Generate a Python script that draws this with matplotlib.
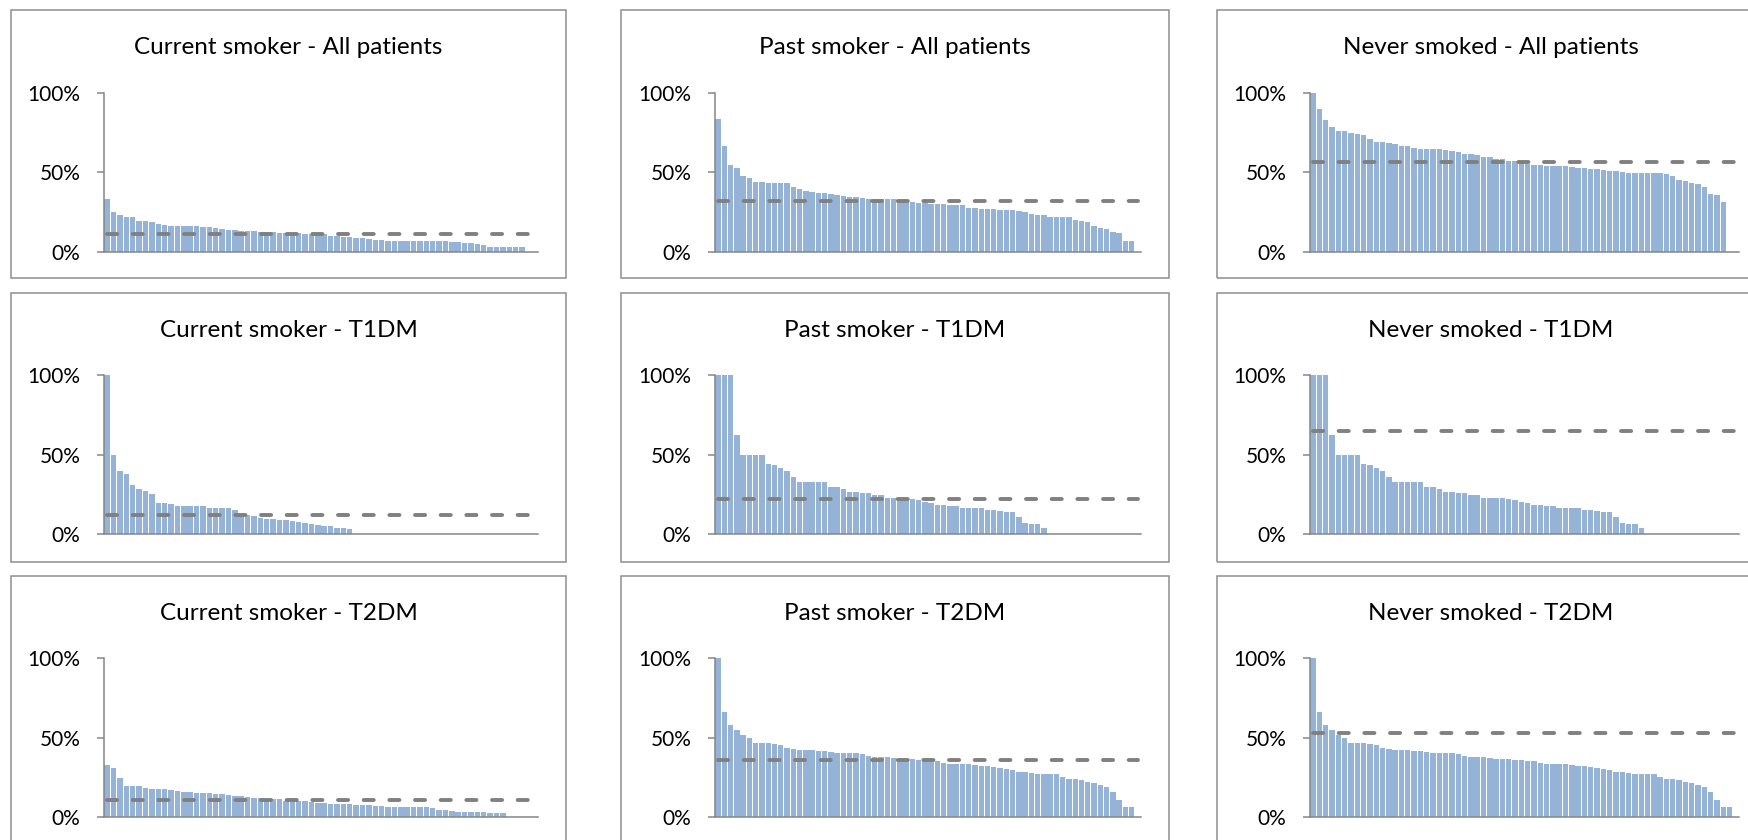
import numpy as np
import matplotlib
matplotlib.use('Agg')
import matplotlib.pyplot as plt
from matplotlib.patches import Rectangle
from matplotlib.ticker import PercentFormatter

plt.rcParams['font.family'] = ['Lato', 'DejaVu Sans']

# ---- data (% of patients per centre, sorted) ----
status = ['Current smoker', 'Past smoker', 'Never smoked']
groups = ['All patients', 'T1DM', 'T2DM']
n_cat = 68

curr_all = [32.9, 24.7, 23.3, 21.8, 21.8, 19.3, 19.1, 18.4, 17.6, 16.6,
            16.4, 16.4, 16.4, 16.4, 15.9, 15.5, 15.5, 14.7, 14.5, 13.8,
            13.4, 13.2, 13.0, 12.8, 12.4, 12.4, 12.2, 11.9, 11.7, 11.7,
            11.5, 11.3, 11.1, 10.9, 10.9, 9.6, 9.6, 9.2, 9.0, 8.6,
            8.4, 8.2, 7.5, 7.5, 7.0, 6.7, 6.7, 6.7, 6.7, 6.5,
            6.5, 6.5, 6.5, 6.5, 5.9, 5.9, 5.2, 5.2, 5.0, 4.0,
            2.9, 2.9, 2.7, 2.7, 2.7, 2.7]
past_all = [83.4, 66.7, 54.5, 52.8, 47.6, 46.5, 43.8, 43.6, 43.2, 43.2,
            43.2, 43.0, 40.9, 39.2, 38.4, 37.5, 37.1, 37.1, 36.3, 35.6,
            35.2, 34.6, 34.2, 33.8, 33.3, 33.1, 33.1, 33.1, 32.9, 32.5,
            32.1, 31.0, 30.8, 30.4, 30.0, 30.0, 30.0, 29.6, 29.4, 29.4,
            27.7, 27.5, 27.0, 27.0, 26.8, 26.4, 26.2, 26.2, 25.6, 24.9,
            23.9, 23.1, 22.9, 21.8, 21.8, 21.8, 21.8, 20.1, 19.3, 18.7,
            15.9, 14.9, 14.0, 12.4, 11.7, 6.7, 6.7]
never_all = [100, 90, 83, 78.2, 76.2, 75.7, 74.7, 74.1, 73.4, 71.1,
             69, 68.8, 68.2, 67.6, 66.3, 66.3, 65.5, 64.4, 64.4, 64.4,
             64.4, 63.8, 63.2, 62.6, 61.7, 61.5, 60.7, 59.8, 59.4, 58.2,
             58.2, 57.3, 56.9, 56.1, 55, 54.8, 54.4, 54, 53.8, 53.6,
             53.6, 53.1, 52.9, 52.5, 52.1, 51.9, 51.3, 50.8, 50.6, 50.4,
             49.6, 49.6, 49.6, 49.6, 49.6, 49.6, 49, 47.7, 45.2, 44.6,
             43.5, 42.7, 41, 36.2, 35.8, 31]
curr_t1 = [100, 49.8, 39.9, 38.2, 31.1, 28.4, 27.5, 25.6, 19.7, 19.7,
           18.9, 18.1, 18.1, 18.1, 18.1, 18.1, 16.4, 16.4, 16.4, 16.4,
           15.3, 12.6, 12.2, 11.6, 10.5, 9.7, 9.7, 9.2, 8.8, 8.4,
           8.0, 6.9, 6.3, 5.9, 5.5, 5.5, 4.2, 3.8, 3.6]
past_t1 = [100, 100, 100, 62.2, 49.8, 49.8, 49.8, 49.8, 44.1, 43.3,
           41.6, 39.7, 36.1, 33, 33, 33, 33, 33, 29.6, 29.6,
           28.2, 26.9, 26.5, 26.1, 26.1, 24.6, 24.6, 22.7, 22.7, 22.7,
           22.7, 22.3, 21.8, 20.6, 19.7, 18.7, 18.7, 18.1, 18.1, 16.4,
           16.4, 16.4, 16.4, 15.5, 15.3, 14.7, 13.9, 13.9, 10.9, 7.4,
           6.3, 6.3, 4.0]
never_t1 = list(past_t1)
curr_t2 = [33.1, 31.2, 24.8, 19.8, 19.8, 19.4, 18.3, 17.9, 17.9, 17.7,
           17.3, 16.6, 16.0, 15.6, 15.4, 15.2, 15.2, 14.7, 14.5, 14.3,
           13.5, 13.3, 12.6, 12.2, 12.0, 11.4, 11.2, 11.2, 10.5, 10.3,
           10.1, 10.1, 9.5, 9.3, 8.8, 8.6, 8.2, 8.2, 8.2, 8.0,
           7.8, 7.6, 7.4, 7.2, 6.7, 6.7, 6.7, 6.7, 6.7, 6.3,
           6.3, 5.9, 4.6, 4.6, 4.2, 3.6, 3.4, 3.4, 3.2, 3.2,
           2.9, 2.7, 2.5]
past_t2 = [100, 66.3, 58.3, 54.9, 51.8, 49.7, 46.5, 46.5, 46.5, 45.9,
           45.5, 43.4, 43.2, 42.5, 42.5, 42.3, 41.9, 41.7, 40.8, 40.6,
           40.6, 40.6, 40.2, 40.0, 38.5, 38.1, 37.9, 37.7, 37.1, 36.6,
           36.6, 36.4, 36.2, 35.8, 35.6, 35.4, 34.1, 33.5, 33.5, 33.5,
           33.3, 32.8, 32.4, 32.2, 31.4, 30.7, 30.3, 29.5, 28.8, 28.4,
           28.0, 27.4, 27.4, 27.4, 27.4, 25.1, 24.4, 24.0, 23.2, 21.9,
           21.5, 20.2, 18.9, 16.0, 10.9, 6.7, 6.7]
never_t2 = list(past_t2)

panels = [[curr_all, past_all, never_all],
          [curr_t1, past_t1, never_t1],
          [curr_t2, past_t2, never_t2]]
averages = [[11.3, 31.9, 56.5],
            [12.0, 22.5, 65.1],
            [10.7, 36.0, 53.0]]

# ---- layout (pixels) ----
W, H = 1748, 840
axis_x0 = [104, 715, 1310]
axis_w = [434, 426, 429]
zero_y = [251.7, 534.3, 817.3]
plot_h = 159
frame_l = [11, 621, 1216.5]
frame_r = [566, 1169, 1765]
frame_t = [10, 293.3, 576]
frame_b = [278.3, 561.7, 845]

bar_col = '#95B3D7'
axis_col = '#868686'

fig = plt.figure(figsize=(W / 100, H / 100), dpi=100)

for r in range(3):
    for c in range(3):
        vals = panels[r][c]
        # outer chart frame
        fig.add_artist(Rectangle((frame_l[c] / W, 1 - frame_b[r] / H),
                                 (frame_r[c] - frame_l[c]) / W,
                                 (frame_b[r] - frame_t[r]) / H,
                                 transform=fig.transFigure, fill=False,
                                 edgecolor='#8E8E8E', lw=1.1))
        fig.text((frame_l[c] + frame_r[c]) / 2 / W, 1 - (frame_t[r] + 37) / H,
                 status[c] + ' - ' + groups[r], ha='center', va='center',
                 fontsize=17.5, color='black')

        ax = fig.add_axes([axis_x0[c] / W, 1 - zero_y[r] / H,
                           axis_w[c] / W, plot_h / H])
        ax.bar(np.arange(len(vals)), vals, width=0.86, color=bar_col,
               edgecolor='none', zorder=2)
        cats = np.arange(n_cat)
        ax.plot(cats, np.full(n_cat, averages[r][c]), color='#808080', lw=2.8,
                dashes=(2.6, 4.0), dash_capstyle='round', zorder=3)
        ax.set_xlim(-0.5, n_cat - 0.5)
        ax.set_ylim(0, 100)
        ax.set_yticks([0, 50, 100])
        ax.yaxis.set_major_formatter(PercentFormatter(decimals=0))
        ax.set_xticks([])
        for s in ['top', 'right']:
            ax.spines[s].set_visible(False)
        for s in ['left', 'bottom']:
            ax.spines[s].set_color(axis_col)
            ax.spines[s].set_linewidth(1.1)
        ax.tick_params(axis='y', length=5, width=1.1, color=axis_col,
                       labelsize=15, pad=12, labelcolor='black')
        ax.patch.set_visible(False)

fig.savefig('out.png', dpi=100)
